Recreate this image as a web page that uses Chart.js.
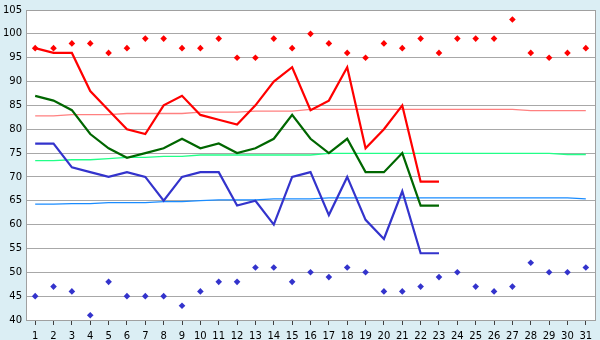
<!DOCTYPE html>
<html>
<head>
<meta charset="utf-8">
<script src="https://cdn.jsdelivr.net/npm/chart.js@4/dist/chart.umd.min.js"></script>
<style>
html,body{margin:0;padding:0;background:#DBEEF4;}
#wrap{width:600px;height:340px;position:relative;}
</style>
</head>
<body>
<div id="wrap"><canvas id="c" width="600" height="340"></canvas></div>
<script>
const days = Array.from({length:31},(_,i)=>String(i+1));
const dailyMax  = [97,96,96,88,84,80,79,85,87,83,82,81,85,90,93,84,86,93,76,80,85,69,69,null,null,null,null,null,null,null,null];
const dailyMean = [87,86,84,79,76,74,75,76,78,76,77,75,76,78,83,78,75,78,71,71,75,64,64,null,null,null,null,null,null,null,null];
const dailyMin  = [77,77,72,71,70,71,70,65,70,71,71,64,65,60,70,71,62,70,61,57,67,54,54,null,null,null,null,null,null,null,null];
const recordHigh = [97,97,98,98,96,97,99,99,97,97,99,95,95,99,97,100,98,96,95,98,97,99,96,99,99,99,103,96,95,96,97];
const recordLow  = [45,47,46,41,48,45,45,45,43,46,48,48,51,51,48,50,49,51,50,46,46,47,49,50,47,46,47,52,50,50,51];
const normalHigh = [82.8,82.8,83.05,83.05,83.05,83.3,83.3,83.3,83.3,83.6,83.6,83.6,83.8,83.8,83.8,84.15,84.15,84.15,84.15,84.15,84.15,84.15,84.15,84.15,84.15,84.15,84.15,83.9,83.9,83.9,83.9];
const normalMean = [73.4,73.4,73.6,73.6,73.85,74.1,74.1,74.3,74.3,74.6,74.6,74.6,74.6,74.6,74.6,74.6,74.95,74.95,74.95,74.95,74.95,74.95,74.95,74.95,74.95,74.95,74.95,74.95,74.95,74.7,74.7];
const normalLow  = [64.3,64.3,64.4,64.4,64.6,64.6,64.6,64.8,64.8,65.05,65.2,65.2,65.2,65.4,65.4,65.4,65.6,65.6,65.6,65.6,65.6,65.6,65.6,65.6,65.6,65.6,65.6,65.6,65.6,65.6,65.4];
const yTicks = {min:40, max:105, step:5};

const bgPlugin = {
  id:'bg',
  beforeDraw(chart){
    const {ctx, chartArea:a} = chart;
    ctx.save();
    ctx.fillStyle = '#DBEEF4';
    ctx.fillRect(0,0,chart.width,chart.height);
    ctx.fillStyle = '#FFFFFF';
    ctx.fillRect(a.left,a.top,a.right-a.left,a.bottom-a.top);
    ctx.restore();
  },
  afterDraw(chart){
    const {ctx, chartArea:a} = chart;
    ctx.save();
    ctx.strokeStyle = '#A0A0A0';
    ctx.lineWidth = 1;
    ctx.strokeRect(Math.round(a.left)+0.5, Math.round(a.top)+0.5, Math.round(a.right-a.left), Math.round(a.bottom-a.top));
    ctx.restore();
  }
};

const lineDs = (label,data,color,width)=>({label,data,borderColor:color,backgroundColor:color,borderWidth:width,pointRadius:0,tension:0,spanGaps:false,fill:false});
const ptDs = (label,data,color)=>({label,data,showLine:false,pointStyle:'rectRot',pointRadius:3.3,pointBorderWidth:0,pointBackgroundColor:color,borderColor:color,backgroundColor:color});

new Chart(document.getElementById('c'),{
  type:'line',
  data:{
    labels:days,
    datasets:[
      lineDs('Max',dailyMax,'#FF0000',2.2),
      lineDs('Mean',dailyMean,'#006600',2.2),
      lineDs('Min',dailyMin,'#3333CC',2.2),
      ptDs('Record high',recordHigh,'#FF0000'),
      ptDs('Record low',recordLow,'#3333CC'),
      lineDs('Normal high',normalHigh,'#FF8080',1.3),
      lineDs('Normal mean',normalMean,'#22FF88',1.3),
      lineDs('Normal low',normalLow,'#1A8CFF',1.3)
    ]
  },
  options:{
    responsive:false,
    animation:false,
    events:[],
    layout:{padding:{top:5,right:5,left:0,bottom:0}},
    plugins:{legend:{display:false},tooltip:{enabled:false}},
    scales:{
      x:{
        type:'category',
        offset:true,
        afterFit(s){ s.height = 20; },
        grid:{display:true,drawOnChartArea:false,drawTicks:true,tickLength:5,offset:false,color:'#404040'},
        border:{display:true,color:'#A0A0A0'},
        ticks:{color:'#000',font:{family:'DejaVu Sans',size:10},padding:5,maxRotation:0,autoSkip:false}
      },
      y:{
        min:yTicks.min,max:yTicks.max,
        afterFit(s){ s.width = 26; },
        grid:{color:'#A8A8A8',drawTicks:false,lineWidth:1},
        border:{display:true,color:'#A0A0A0'},
        ticks:{stepSize:yTicks.step,color:'#000',font:{family:'DejaVu Sans',size:10},padding:4}
      }
    }
  },
  plugins:[bgPlugin]
});
</script>
</body>
</html>
